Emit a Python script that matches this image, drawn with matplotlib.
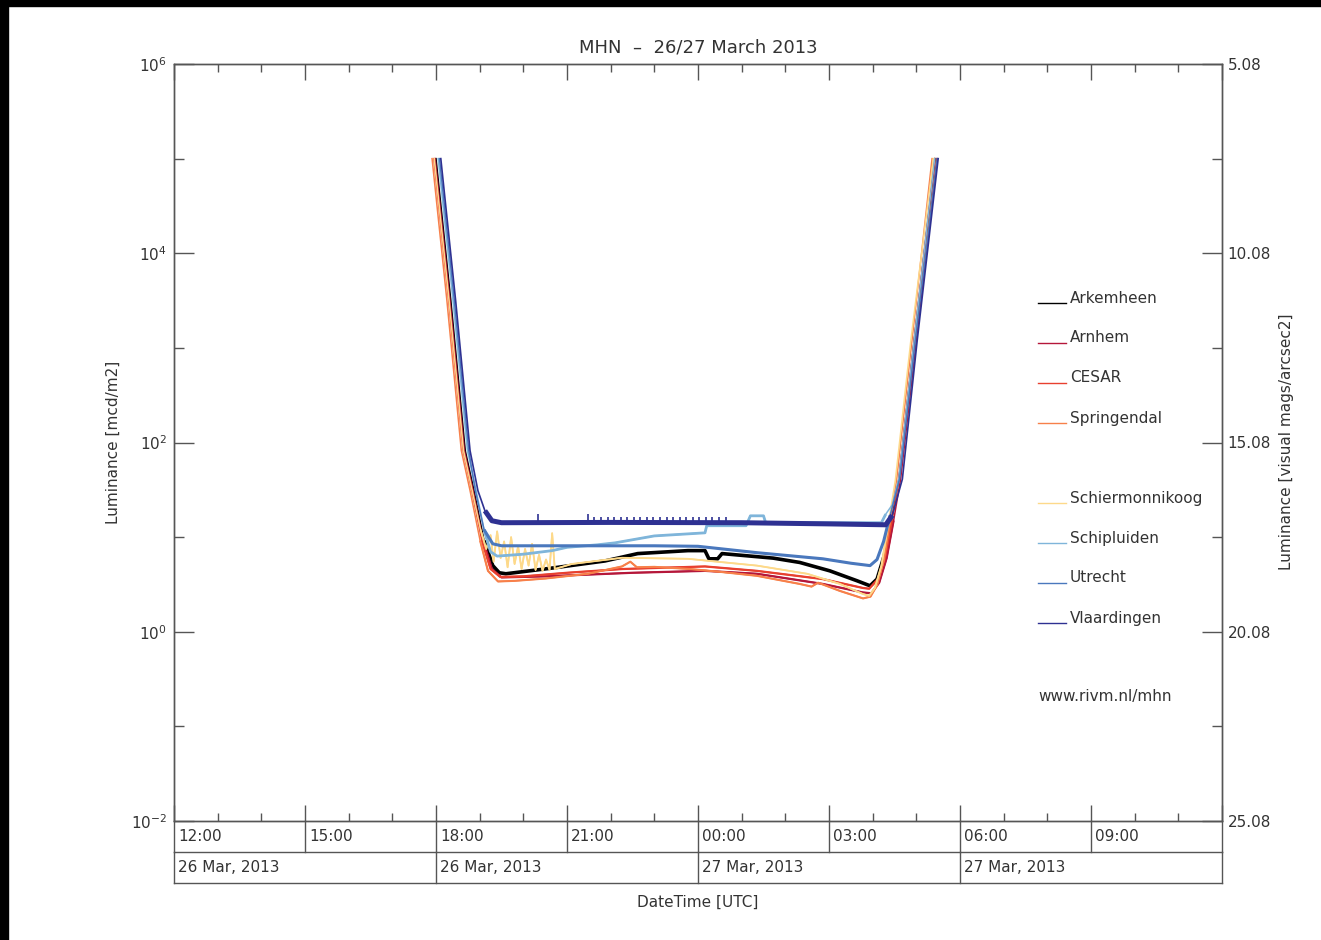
import numpy as np
import matplotlib
matplotlib.use("Agg")
import matplotlib.pyplot as plt
from matplotlib.lines import Line2D
from matplotlib.patches import Rectangle
from matplotlib.ticker import FixedLocator, NullFormatter, LogFormatterSciNotation, FormatStrFormatter
from matplotlib.transforms import blended_transform_factory

W, H = 1321, 940

# time: hours after 26 Mar 2013 12:00 UTC, luminance in mcd/m2
ark_h = [6.00, 6.34, 6.67, 6.87, 7.10, 7.30, 7.45, 7.60, 8.72, 9.87, 10.62, 11.77, 12.16, 12.25, 12.45,
         12.55, 13.72, 14.33, 15.02, 15.64, 15.94, 16.10, 16.27, 16.43, 16.60, 16.95, 17.43]
ark_L = [1e5, 3150, 82, 31, 9.2, 5.0, 4.2, 4.1, 4.75, 5.6, 6.7, 7.2, 7.2, 5.9, 5.9,
         6.7, 6.0, 5.4, 4.4, 3.46, 3.06, 3.6, 6.5, 15, 41, 1200, 1e5]

arn_h = [5.98, 6.32, 6.65, 6.85, 7.08, 7.28, 7.50, 8.50, 10.50, 12.16, 13.35, 14.86, 15.78, 15.97,
         16.15, 16.32, 16.48, 16.64, 17.00, 17.47]
arn_L = [1e5, 3150, 82, 31, 9.2, 4.6, 3.75, 3.85, 4.2, 4.4, 4.1, 3.2, 2.6, 2.55,
         3.3, 6.0, 15, 41, 1200, 1e5]

ces_h = [5.95, 6.29, 6.62, 6.82, 7.05, 7.25, 7.47, 8.00, 9.00, 10.26, 12.16, 13.35, 14.86, 15.78,
         15.92, 16.12, 16.28, 16.44, 16.60, 16.95, 17.42]
ces_L = [1e5, 3150, 82, 31, 9.2, 4.6, 3.8, 3.85, 4.2, 4.6, 4.9, 4.4, 3.6, 2.9,
         2.85, 3.6, 6.0, 15, 41, 1200, 1e5]

spr_h = [5.91, 6.25, 6.58, 6.78, 7.01, 7.19, 7.42, 7.80, 8.50, 9.48, 10.26, 10.45, 10.60, 11.00,
         11.82, 12.50, 13.35, 14.33, 14.60, 14.75, 15.25, 15.78, 15.95, 16.10, 16.25, 16.40, 16.55,
         16.90, 17.36]
spr_L = [1e5, 3150, 82, 31, 9.2, 4.4, 3.4, 3.45, 3.65, 4.1, 4.9, 5.5, 4.8, 4.85,
         4.6, 4.3, 3.9, 3.2, 3.0, 3.3, 2.7, 2.25, 2.35, 3.1, 5.6, 15, 41,
         1200, 1e5]

sch_h = [5.96, 6.30, 6.63, 6.83, 7.02, 7.15, 7.25, 7.32, 7.40, 7.48, 7.56, 7.64, 7.72, 7.80, 7.88,
         7.96, 8.04, 8.12, 8.20, 8.28, 8.36, 8.44, 8.52, 8.60, 8.66, 8.72, 9.11, 10.26, 11.77, 13.35,
         14.50, 15.25, 15.78, 15.92, 16.05, 16.20, 16.36, 16.52, 16.87, 17.39]
sch_L = [1e5, 3150, 82, 31, 12, 7.5, 10.5, 5.5, 11.5, 6.0, 9.0, 4.8, 10.0, 5.2, 8.0,
         4.6, 7.5, 5.0, 8.5, 4.5, 6.5, 4.4, 5.8, 4.5, 11.0, 4.6, 5.2, 6.05, 5.9, 5.0,
         4.1, 3.2, 2.5, 2.4, 2.9, 5.0, 14, 40, 1150, 1e5]

sip_h = [6.05, 6.39, 6.72, 6.92, 7.10, 7.25, 7.40, 8.00, 8.66, 9.00, 9.70, 10.10, 11.00, 12.16,
         12.20, 13.10, 13.20, 13.50, 13.55, 16.20, 16.30, 16.45, 16.60, 16.95, 17.42]
sip_L = [1e5, 3150, 82, 31, 12, 7.0, 6.3, 6.6, 7.2, 7.8, 8.3, 8.7, 10.3, 11.1,
         13.2, 13.2, 16.8, 16.8, 14.2, 14.2, 17.5, 22, 42, 1200, 1e5]

utr_h = [6.08, 6.42, 6.75, 6.90, 7.10, 7.30, 7.50, 9.00, 11.00, 12.00, 13.35, 14.86, 15.50, 15.94,
         16.10, 16.25, 16.40, 16.62, 16.98, 17.48]
utr_L = [1e5, 3150, 82, 31, 12, 8.5, 8.1, 8.1, 8.1, 8.0, 6.85, 5.9, 5.3, 5.0,
         5.8, 9.0, 17, 42, 1200, 1e5]

vla_h = [6.11, 6.45, 6.78, 6.96, 7.12, 7.28, 7.50, 10.00, 13.00, 15.00, 16.30, 16.45, 16.68, 17.02, 17.50]
vla_L = [1e5, 3150, 82, 31, 19, 14.9, 14.2, 14.3, 14.2, 13.8, 13.5, 17, 41, 1200, 1e5]

# short spikes on the Vlaardingen record
vla_spike_h = [8.34, 9.48, 9.62, 9.78, 9.93, 10.08, 10.23, 10.38, 10.53, 10.68, 10.83, 10.98,
               11.13, 11.28, 11.43, 11.58, 11.73, 11.88, 12.03, 12.18, 12.33, 12.48, 12.63]
vla_spike_L = [17.5, 17.5, 16.2, 16.2, 16.2, 16.2, 16.2, 16.2, 16.2, 16.2, 16.2, 16.2,
               16.2, 16.2, 16.2, 16.2, 16.2, 16.2, 16.2, 16.2, 16.2, 16.2, 16.2]

stations = ["Arkemheen", "Arnhem", "CESAR", "Springendal",
            "Schiermonnikoog", "Schipluiden", "Utrecht", "Vlaardingen"]
colors = ["#000000", "#b5173a", "#e8402f", "#f7804a",
          "#fdd98a", "#7fb5da", "#4a78bd", "#2e3192"]
# thin line for the twilight part, thicker (noisy) band during the night
thin_w = [1.1, 1.1, 1.1, 1.1, 1.1, 1.1, 1.1, 1.2]
band_w = [2.6, 1.6, 1.6, 1.5, 1.3, 2.0, 2.2, 3.6]
series = [(ark_h, ark_L), (arn_h, arn_L), (ces_h, ces_L), (spr_h, spr_L),
          (sch_h, sch_L), (sip_h, sip_L), (utr_h, utr_L), (vla_h, vla_L)]

hour_labels = ["12:00", "15:00", "18:00", "21:00", "00:00", "03:00", "06:00", "09:00"]
hour_pos = [0, 3, 6, 9, 12, 15, 18, 21]
date_labels = ["26 Mar, 2013", "26 Mar, 2013", "27 Mar, 2013", "27 Mar, 2013"]
date_pos = [0, 6, 12, 18]

mag_ticks = [5.08, 10.08, 15.08, 20.08, 25.08]
mag_minor = [7.58, 12.58, 17.58, 22.58]

txt = "#333333"
line_c = "#555555"
plt.rcParams["font.family"] = ["DejaVu Sans"]
plt.rcParams["text.color"] = txt
plt.rcParams["xtick.color"] = line_c
plt.rcParams["ytick.color"] = line_c
plt.rcParams["xtick.labelcolor"] = txt
plt.rcParams["ytick.labelcolor"] = txt

fig = plt.figure(figsize=(W / 100, H / 100), dpi=100)
fig.patch.set_facecolor("white")
ax = fig.add_axes([174 / W, 1 - 821 / H, (1222 - 174) / W, (821 - 64) / H])
ax.set_yscale("log")
ax.set_xlim(0, 24)
ax.set_ylim(1e-2, 1e6)

for (h, L), c, tw, bw in zip(series, colors, thin_w, band_w):
    h = np.array(h)
    L = np.array(L)
    ax.plot(h, L, color=c, lw=tw, solid_joinstyle="round")
    night = L <= 20
    ax.plot(h[night], L[night], color=c, lw=bw, solid_joinstyle="round", solid_capstyle="butt")
ax.vlines(vla_spike_h, 14.2, vla_spike_L, color=colors[-1], lw=1.2)

for s in ax.spines.values():
    s.set_color(line_c)
    s.set_linewidth(1.0)

ax.xaxis.set_major_locator(FixedLocator(range(0, 25, 3)))
ax.xaxis.set_minor_locator(FixedLocator(range(0, 25)))
ax.tick_params(axis="x", which="both", direction="in", top=True, bottom=True, labelbottom=False)
ax.tick_params(axis="x", which="major", length=11.5, width=1)
ax.tick_params(axis="x", which="minor", length=5.8, width=1)

ax.yaxis.set_major_locator(FixedLocator([1e-2, 1e0, 1e2, 1e4, 1e6]))
ax.yaxis.set_minor_locator(FixedLocator([1e-1, 1e1, 1e3, 1e5]))
ax.yaxis.set_major_formatter(LogFormatterSciNotation())
ax.yaxis.set_minor_formatter(NullFormatter())
ax.tick_params(axis="y", which="major", direction="in", length=14.4, width=1, labelsize=11, pad=5)
ax.tick_params(axis="y", which="minor", direction="in", length=7.2, width=1)

ax2 = ax.twinx()
ax2.set_ylim(25.08, 5.08)
ax2.yaxis.set_major_locator(FixedLocator(mag_ticks))
ax2.yaxis.set_minor_locator(FixedLocator(mag_minor))
ax2.yaxis.set_major_formatter(FormatStrFormatter("%.2f"))
ax2.tick_params(axis="y", which="major", direction="in", length=14.4, width=1, labelsize=11, pad=4)
ax2.tick_params(axis="y", which="minor", direction="in", length=7.2, width=1)
for s in ax2.spines.values():
    s.set_color(line_c)
    s.set_linewidth(1.0)

# time / date boxes below the axes
tr = blended_transform_factory(ax.transData, ax.transAxes)
y1 = -(852 - 821) / 757
y2 = -(883 - 821) / 757
kw = dict(transform=tr, clip_on=False, color=line_c, lw=1.0)
ax.plot([0, 24], [y1, y1], **kw)
ax.plot([0, 24], [y2, y2], **kw)
for p in hour_pos + [24]:
    ax.plot([p, p], [0, y1], **kw)
for p in date_pos + [24]:
    ax.plot([p, p], [y1, y2], **kw)
for p, lab in zip(hour_pos, hour_labels):
    ax.text(p + 0.1, (0 + y1) / 2, lab, transform=tr, ha="left", va="center", fontsize=11)
for p, lab in zip(date_pos, date_labels):
    ax.text(p + 0.1, (y1 + y2) / 2, lab, transform=tr, ha="left", va="center", fontsize=11)

fig.text(698 / W, 1 - 47 / H, "MHN  \u2013  26/27 March 2013", ha="center", va="center", fontsize=13)
fig.text(698 / W, 1 - 902 / H, "DateTime [UTC]", ha="center", va="center", fontsize=11)
fig.text(113 / W, 1 - 442 / H, "Luminance [mcd/m2]", rotation=90, ha="center", va="center", fontsize=11)
fig.text(1286 / W, 1 - 442 / H, "Luminance [visual mags/arcsec2]", rotation=90,
         ha="center", va="center", fontsize=11)

# legend drawn by hand, like the original
leg_y = [298, 338, 378, 418, 498, 538, 578, 618]
for name, c, y in zip(stations, colors, leg_y):
    fig.add_artist(Line2D([1038 / W, 1066 / W], [1 - (y + 5) / H] * 2, color=c, lw=1.0))
    fig.text(1070 / W, 1 - y / H, name, ha="left", va="center", fontsize=11)
fig.text(1038 / W, 1 - 696 / H, "www.rivm.nl/mhn", ha="left", va="center", fontsize=11)

# black frame strips at the top and left edge
fig.add_artist(Rectangle((0, 1 - 6 / H), 1, 6 / H, transform=fig.transFigure, color="black", zorder=10))
fig.add_artist(Rectangle((0, 0), 8 / W, 1, transform=fig.transFigure, color="black", zorder=10))

fig.savefig("out.png", dpi=100)
